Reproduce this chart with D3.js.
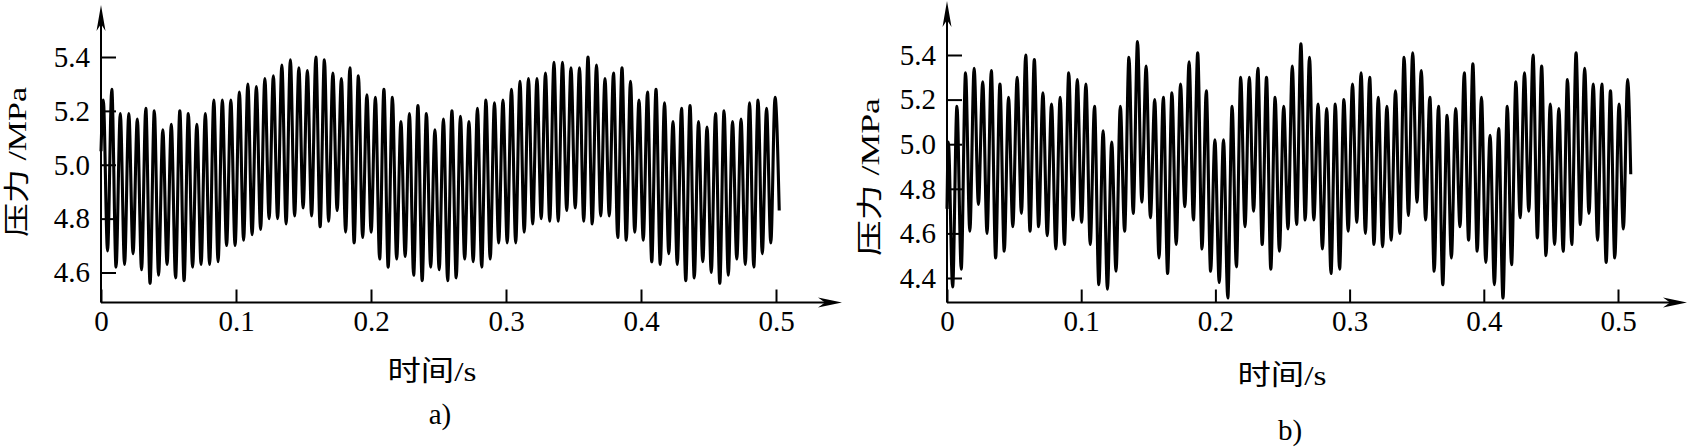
<!DOCTYPE html>
<html>
<head>
<meta charset="utf-8">
<script src="https://cdn.jsdelivr.net/npm/d3@7"></script>
<style>
  body { margin: 0; background: #fff; }
  svg { display: block; }
</style>
</head>
<body>
<script>
// pressure peaks / troughs read cycle by cycle off the plots (MPa)
var peaksA = [5.24, 5.28, 5.19, 5.19, 5.17, 5.21, 5.20, 5.13, 5.15, 5.20, 5.19, 5.15, 5.19, 5.24, 5.24, 5.24, 5.27, 5.30, 5.29, 5.32, 5.33,
  5.37, 5.39, 5.36, 5.35, 5.40, 5.39, 5.34, 5.32, 5.36, 5.33, 5.26, 5.25, 5.28, 5.25, 5.16, 5.19, 5.22, 5.19, 5.13, 5.17,
  5.20, 5.18, 5.16, 5.21, 5.24, 5.23, 5.24, 5.28, 5.31, 5.32, 5.32, 5.34, 5.38, 5.38, 5.36, 5.36, 5.40, 5.37, 5.32, 5.34,
  5.36, 5.31, 5.24, 5.27, 5.28, 5.23, 5.16, 5.21, 5.22, 5.16, 5.14, 5.19, 5.20, 5.16, 5.17, 5.23, 5.24, 5.21, 5.25];
var troughsA = [4.68, 4.62, 4.63, 4.67, 4.61, 4.56, 4.59, 4.63, 4.58, 4.57, 4.62, 4.63, 4.63, 4.64, 4.70, 4.70, 4.72, 4.74, 4.76, 4.80,
  4.80, 4.78, 4.81, 4.84, 4.81, 4.77, 4.79, 4.83, 4.75, 4.71, 4.73, 4.75, 4.65, 4.62, 4.65, 4.66, 4.59, 4.57, 4.62, 4.61, 4.57,
  4.58, 4.65, 4.64, 4.62, 4.65, 4.71, 4.71, 4.71, 4.75, 4.78, 4.80, 4.79, 4.79, 4.83, 4.84, 4.79, 4.78, 4.81, 4.81, 4.73,
  4.72, 4.75, 4.72, 4.64, 4.63, 4.67, 4.63, 4.57, 4.58, 4.64, 4.60, 4.56, 4.59, 4.65, 4.63, 4.62, 4.67, 4.71];
var peaksB = [5.01, 5.17, 5.32, 5.34, 5.28, 5.33, 5.27, 5.21, 5.30, 5.40, 5.38, 5.23, 5.18, 5.21, 5.32, 5.29, 5.27, 5.17, 5.06, 5.01, 5.17,
  5.39, 5.46, 5.35, 5.20, 5.21, 5.23, 5.27, 5.37, 5.41, 5.24, 5.02, 5.02, 5.17, 5.30, 5.30, 5.34, 5.30, 5.21, 5.17, 5.35,
  5.45, 5.39, 5.18, 5.16, 5.18, 5.20, 5.27, 5.32, 5.30, 5.21, 5.17, 5.24, 5.39, 5.41, 5.33, 5.21, 5.17, 5.13, 5.16, 5.32,
  5.36, 5.21, 5.04, 5.07, 5.17, 5.28, 5.32, 5.40, 5.35, 5.18, 5.16, 5.29, 5.41, 5.34, 5.27, 5.27, 5.24, 5.18, 5.29];
var troughsB = [4.36, 4.44, 4.61, 4.73, 4.60, 4.49, 4.52, 4.63, 4.69, 4.61, 4.63, 4.59, 4.53, 4.55, 4.66, 4.65, 4.55, 4.37, 4.35, 4.43,
  4.61, 4.69, 4.74, 4.67, 4.49, 4.42, 4.55, 4.72, 4.66, 4.53, 4.43, 4.38, 4.31, 4.45, 4.63, 4.70, 4.55, 4.44, 4.52, 4.62,
  4.64, 4.66, 4.66, 4.53, 4.42, 4.44, 4.61, 4.65, 4.60, 4.55, 4.54, 4.57, 4.60, 4.68, 4.74, 4.66, 4.43, 4.37, 4.49, 4.63, 4.57,
  4.52, 4.47, 4.37, 4.31, 4.46, 4.67, 4.70, 4.58, 4.50, 4.55, 4.52, 4.55, 4.64, 4.69, 4.57, 4.47, 4.49, 4.62];

// start / end samples and time of first and last peak (s)
var startA = 5.05, endA = 4.83, firstPeakA = 0.0017, lastPeakA = 0.4993, endTA = 0.5024;
var startB = 4.71, endB = 4.865, firstPeakB = 0.0010, lastPeakB = 0.5072, endTB = 0.5095;

var xTicks = [0, 0.1, 0.2, 0.3, 0.4, 0.5];
var yTicksA = [4.6, 4.8, 5.0, 5.2, 5.4];
var yTicksB = [4.4, 4.6, 4.8, 5.0, 5.2, 5.4];

var yLabel = "压力 /MPa",
  xLabel = "时间/s";

var W = 1693, H = 447;
var latin = "'Liberation Serif', 'Times New Roman', 'Noto Sans CJK SC', serif";

var svg = d3.select("body").append("svg")
  .attr("width", W)
  .attr("height", H)
  .style("background", "#fff");

function buildSeries(start, peaks, troughs, t0, t1, end, tEnd) {
  var period = (t1 - t0) / (peaks.length - 1);
  var pts = [{t: 0, v: start}];
  peaks.forEach(function(p, i) {
    pts.push({t: t0 + i * period, v: p});
    if (i < troughs.length) pts.push({t: t0 + (i + 0.5) * period, v: troughs[i]});
  });
  pts.push({t: tEnd, v: end});
  return pts;
}

function drawPanel(cfg) {
  var x = d3.scaleLinear().domain([0, 0.5]).range([cfg.x0, cfg.x5]);
  var y = d3.scaleLinear().domain(cfg.yDomain).range(cfg.yRange);
  var g = svg.append("g");
  var ax = x(0);

  // signal
  var line = d3.line()
    .x(function(d) { return x(d.t); })
    .y(function(d) { return y(d.v); })
    .curve(d3.curveMonotoneX);
  g.append("path")
    .datum(cfg.series)
    .attr("d", line)
    .attr("fill", "none")
    .attr("stroke", "#000")
    .attr("stroke-width", 3.1)
    .attr("stroke-linejoin", "round");

  // axes lines + arrows
  g.append("line")
    .attr("x1", ax).attr("x2", cfg.xArrow - 14)
    .attr("y1", cfg.base).attr("y2", cfg.base)
    .attr("stroke", "#000").attr("stroke-width", 2);
  g.append("path")
    .attr("d", "M" + cfg.xArrow + "," + cfg.base + " L" + (cfg.xArrow - 24) + "," + (cfg.base - 5) +
      " L" + (cfg.xArrow - 17) + "," + cfg.base + " L" + (cfg.xArrow - 24) + "," + (cfg.base + 5) + "Z")
    .attr("fill", "#000");
  g.append("line")
    .attr("x1", ax).attr("x2", ax)
    .attr("y1", cfg.base).attr("y2", cfg.yArrow + 14)
    .attr("stroke", "#000").attr("stroke-width", 2);
  g.append("path")
    .attr("d", "M" + ax + "," + cfg.yArrow + " L" + (ax - 4.5) + "," + (cfg.yArrow + 26) +
      " L" + ax + "," + (cfg.yArrow + 19) + " L" + (ax + 4.5) + "," + (cfg.yArrow + 26) + "Z")
    .attr("fill", "#000");

  // y ticks
  var yAxis = g.append("g")
    .attr("transform", "translate(" + ax + ",0)")
    .call(d3.axisLeft(y).tickValues(cfg.yTicks).tickSize(-15).tickPadding(11).tickFormat(d3.format(".1f")));
  yAxis.select(".domain").remove();
  yAxis.attr("font-size", 29).attr("font-family", latin);
  yAxis.selectAll("line").attr("stroke-width", 2);

  // x ticks
  var xAxis = g.append("g")
    .attr("transform", "translate(0," + cfg.base + ")")
    .call(d3.axisBottom(x).tickValues(xTicks).tickSize(-13).tickPadding(8)
      .tickFormat(function(d) { return d === 0 ? "0" : d3.format(".1f")(d); }));
  xAxis.select(".domain").remove();
  xAxis.attr("font-size", 29).attr("font-family", latin);
  xAxis.selectAll("line").attr("stroke-width", 2);

  // labels
  g.append("text")
    .attr("transform", "translate(" + cfg.yLabelX + "," + cfg.yLabelY + ") rotate(-90)")
    .attr("text-anchor", "middle")
    .attr("dominant-baseline", "central")
    .attr("font-family", latin)
    .attr("font-size", 26)
    .attr("textLength", cfg.yLabelLen)
    .attr("lengthAdjust", "spacingAndGlyphs")
    .text(yLabel);
  g.append("text")
    .attr("x", cfg.xLabelX).attr("y", cfg.xLabelY)
    .attr("text-anchor", "middle")
    .attr("dominant-baseline", "central")
    .attr("font-family", latin)
    .attr("font-size", 28)
    .attr("textLength", 89)
    .attr("lengthAdjust", "spacingAndGlyphs")
    .text(xLabel);
  g.append("text")
    .attr("x", cfg.xLabelX + 8).attr("y", cfg.capY)
    .attr("text-anchor", "middle")
    .attr("dominant-baseline", "central")
    .attr("font-family", latin)
    .attr("font-size", 29)
    .text(cfg.caption);
}

drawPanel({
  series: buildSeries(startA, peaksA, troughsA, firstPeakA, lastPeakA, endA, endTA),
  x0: 101, x5: 776, yDomain: [4.6, 5.4], yRange: [272.5, 57], yTicks: yTicksA,
  base: 302.5, xArrow: 842, yArrow: 5,
  yLabelX: 17, yLabelY: 162, yLabelLen: 150,
  xLabelX: 432, xLabelY: 371, capY: 414, caption: "a)"
});

drawPanel({
  series: buildSeries(startB, peaksB, troughsB, firstPeakB, lastPeakB, endB, endTB),
  x0: 947, x5: 1618, yDomain: [4.4, 5.4], yRange: [278, 55], yTicks: yTicksB,
  base: 302.5, xArrow: 1687, yArrow: 1,
  yLabelX: 870, yLabelY: 177, yLabelLen: 158,
  xLabelX: 1282, xLabelY: 375, capY: 430, caption: "b)"
});
</script>
</body>
</html>
